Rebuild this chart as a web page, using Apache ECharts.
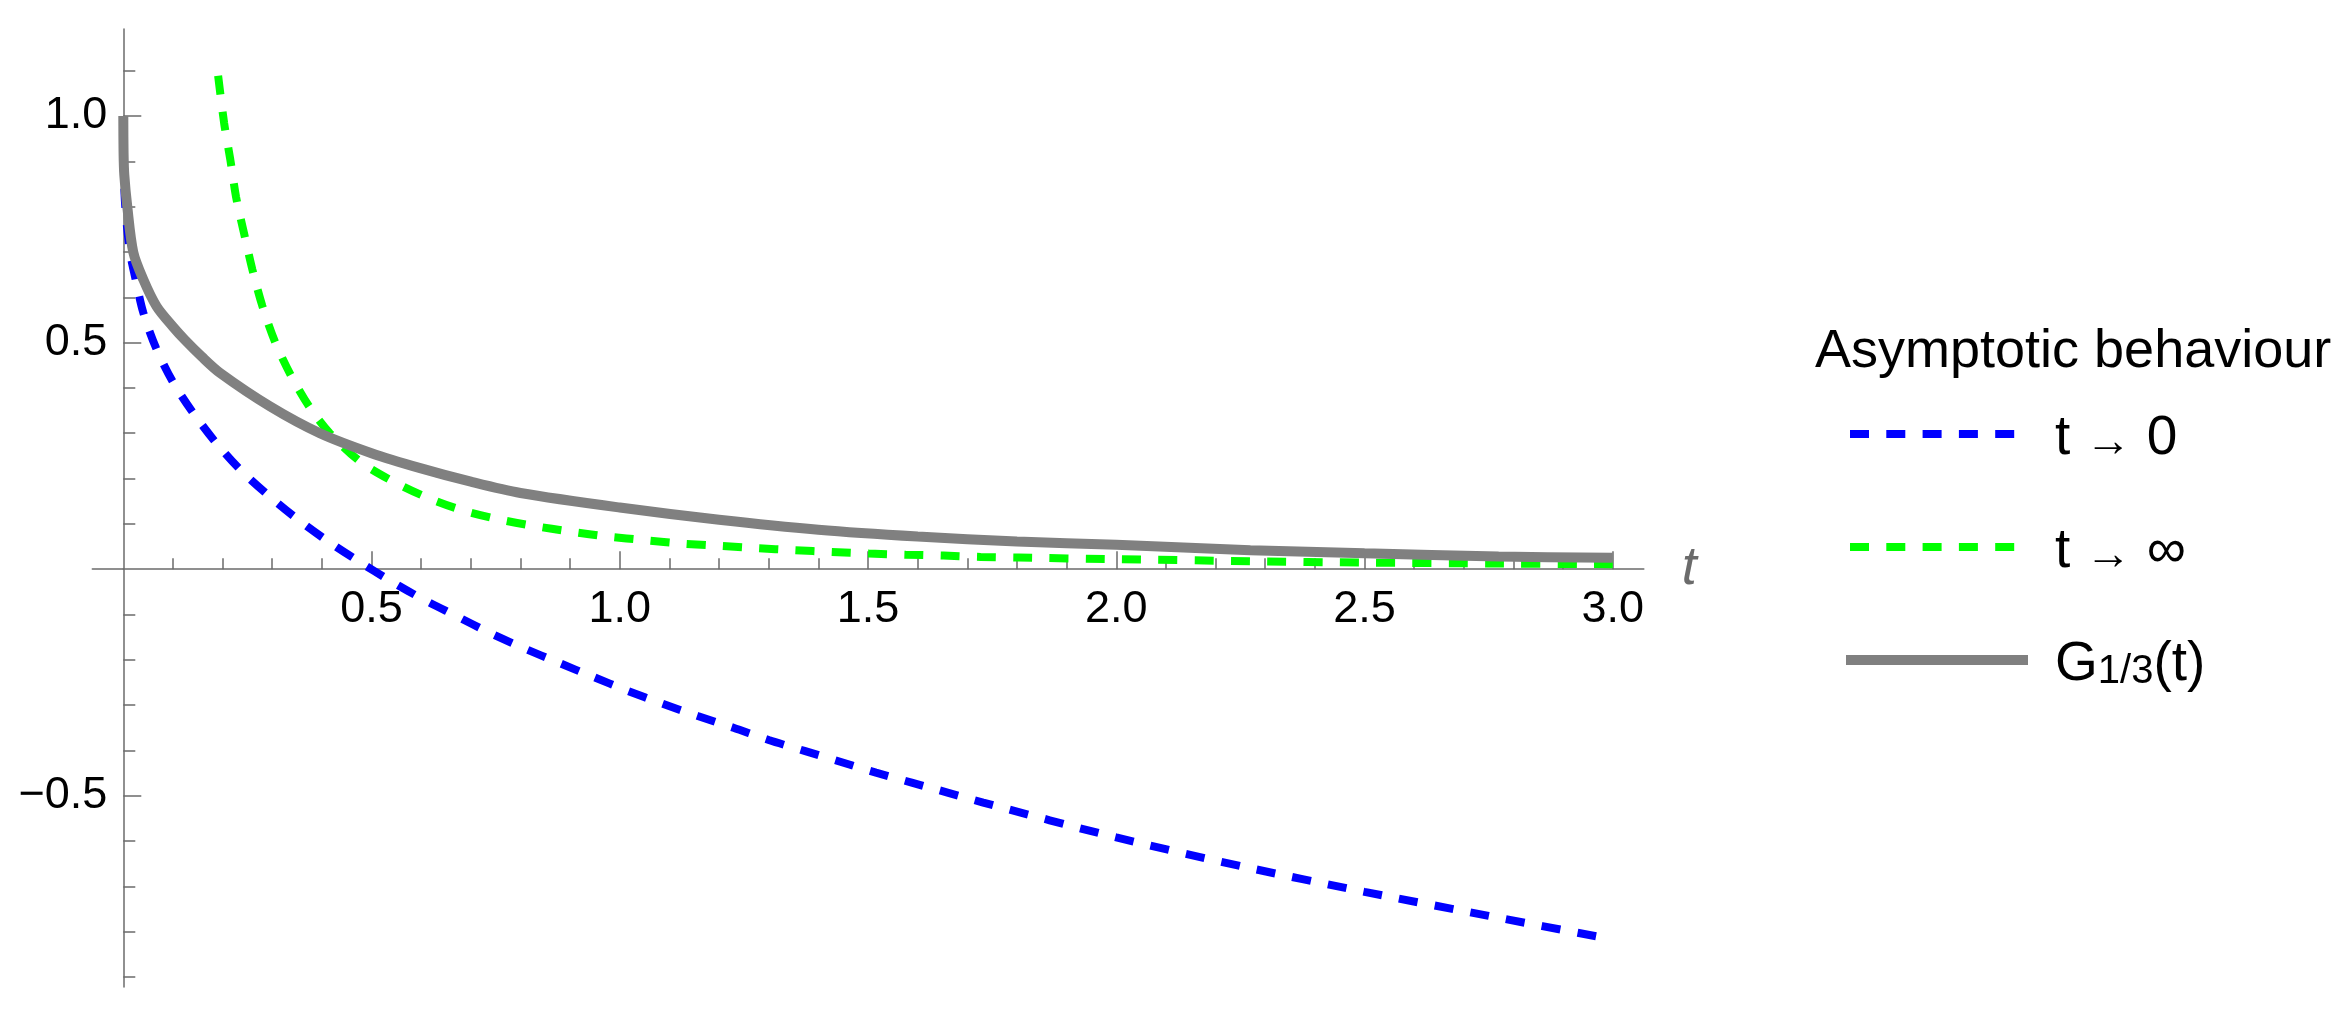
<!DOCTYPE html>
<html>
<head>
<meta charset="utf-8">
<script src="https://cdn.jsdelivr.net/npm/echarts@6/dist/echarts.min.js"></script>
<style>
html,body{margin:0;padding:0;background:#fff;}
#chart{width:2337px;height:1017px;}
</style>
</head>
<body>
<div id="chart"></div>
<script>
// ---------- data ----------
const seriesNames = ['t → 0', 't → ∞', 'G1/3(t)'];
const legendTitle = 'Asymptotic behaviour';
const xAxisName = 't';

// t -> 0 asymptote (blue dashed)
const tBlue = [0, 0.001, 0.0046, 0.0135, 0.0235, 0.0403, 0.066, 0.0995, 0.140, 0.186, 0.236, 0.291, 0.349, 0.411, 0.473, 0.537, 0.603, 0.670, 0.737, 0.806, 0.876, 0.945, 1.015, 1.086, 1.157, 1.229, 1.300, 1.372, 1.444, 1.516, 1.588, 1.660, 1.732, 2.0, 2.25, 2.5, 2.75, 3.0];
const vBlue = [1.0, 0.874, 0.79, 0.70, 0.646, 0.566, 0.488, 0.414, 0.346, 0.280, 0.219, 0.164, 0.112, 0.0625, 0.018, -0.025, -0.066, -0.103, -0.140, -0.174, -0.206, -0.237, -0.268, -0.297, -0.324, -0.350, -0.377, -0.401, -0.425, -0.449, -0.471, -0.493, -0.515, -0.592, -0.655, -0.712, -0.765, -0.817];

// t -> infinity asymptote (green dashed)
const tGreen = [0.191, 0.203, 0.2155, 0.227, 0.243, 0.260, 0.280, 0.3055, 0.337, 0.375, 0.416, 0.477, 0.541, 0.610, 0.680, 0.752, 0.825, 0.901, 0.976, 1.051, 1.126, 1.201, 1.276, 1.351, 1.427, 1.502, 1.576, 1.652, 1.727, 1.803, 2.0, 2.27, 2.5, 2.763, 3.0];
const vGreen = [1.089, 0.985, 0.904, 0.822, 0.742, 0.661, 0.581, 0.502, 0.429, 0.358, 0.300, 0.2375, 0.195, 0.159, 0.131, 0.111, 0.0957, 0.083, 0.072, 0.064, 0.0565, 0.0514, 0.0464, 0.042, 0.038, 0.0345, 0.032, 0.030, 0.027, 0.0256, 0.022, 0.0177, 0.0145, 0.0125, 0.011];

// G_{1/3}(t) (gray solid)
const tGray = [0, 0.0005, 0.002, 0.008, 0.02, 0.04, 0.067, 0.10, 0.124, 0.158, 0.195, 0.296, 0.396, 0.5, 0.598, 0.7, 0.8, 1.0, 1.2, 1.4, 1.6, 1.8, 2.0, 2.27, 2.5, 2.77, 3.0];
const vGray = [1.0, 0.92, 0.87, 0.80, 0.70, 0.64, 0.58, 0.535, 0.506, 0.469, 0.433, 0.359, 0.300, 0.256, 0.223, 0.193, 0.168, 0.136, 0.109, 0.087, 0.072, 0.061, 0.054, 0.042, 0.035, 0.028, 0.025];

// ticks
const xMajorTicks = [0.5, 1.0, 1.5, 2.0, 2.5, 3.0];
const xMinorTicks = [0.1, 0.2, 0.3, 0.4, 0.6, 0.7, 0.8, 0.9, 1.1, 1.2, 1.3, 1.4, 1.6, 1.7, 1.8, 1.9, 2.1, 2.2, 2.3, 2.4, 2.6, 2.7, 2.8, 2.9];
const yMajorTicks = [-0.5, 0.5, 1.0];
const yMinorTicks = [-0.9, -0.8, -0.7, -0.6, -0.4, -0.3, -0.2, -0.1, 0.1, 0.2, 0.3, 0.4, 0.6, 0.7, 0.8, 0.9, 1.1];

// ---------- chart ----------
const W = 2337, H = 1017;
const FONT = '"Liberation Sans", Arial, sans-serif';
const AXIS_COLOR = '#6b6b6b';
const X_MIN = 0, X_MAX = 3.0625;      // y axis sits at t = 0 (grid left edge)
const X_STUB = -0.0625;               // x axis line continues a little left of the y axis
const Y_MIN = -0.922, Y_MAX = 1.192;
const GRID = {left: 123.3, right: 693.2, top: 29, bottom: 30};
const STUB_LEFT = 92.3;
const plotH = H - GRID.top - GRID.bottom;
// x axis passes through y = 0
const zeroY = GRID.top + (Y_MAX / (Y_MAX - Y_MIN)) * plotH;
const xAxisOffset = -((H - GRID.bottom) - zeroY);

const zip = (ts, vs) => ts.map((t, i) => [t, vs[i]]);

function fmtTick(v) {
  const s = Math.abs(v).toFixed(1);
  return v < 0 ? '\u2212' + s : s;
}

const chart = echarts.init(document.getElementById('chart'), null, {renderer: 'canvas'});

const lineStyleAxis = {color: AXIS_COLOR, width: 1.5};

const legendText = {
  fontFamily: FONT, fontSize: 55, color: '#000',
  padding: [0, 0, 0, 22],
  rich: {
    g: {fontFamily: FONT, fontSize: 55, color: '#000', lineHeight: 64, verticalAlign: 'bottom'},
    a: {fontFamily: FONT, fontSize: 46, color: '#000', lineHeight: 64, verticalAlign: 'bottom'},
    s: {fontFamily: FONT, fontSize: 40, color: '#000', lineHeight: 28, verticalAlign: 'bottom'}
  }
};

const hiddenSymbol = {color: 'rgba(0,0,0,0)', borderWidth: 0, opacity: 0};

const option = {
  animation: false,
  backgroundColor: '#ffffff',
  title: {
    text: legendTitle, left: 1815, top: 325, padding: 0,
    textStyle: {fontFamily: FONT, fontSize: 54, fontWeight: 'normal', color: '#000'}
  },
  legend: {
    orient: 'vertical', left: 1841, top: 411, padding: 0,
    itemWidth: 182, itemHeight: 30, itemGap: 58,
    selectedMode: false,
    textStyle: legendText,
    formatter: function (name) {
      if (name === seriesNames[0]) return '{g|t }{a|→}{g| 0}';
      if (name === seriesNames[1]) return '{g|t }{a|→}{g| ∞}';
      return '{g|G}{s|1/3}{g|(t)}';
    },
    data: [
      {name: seriesNames[0], itemStyle: hiddenSymbol, lineStyle: {width: 8, type: [19, 17.3], dashOffset: 32.3, cap: 'butt'}},
      {name: seriesNames[1], itemStyle: hiddenSymbol, lineStyle: {width: 8, type: [19, 17.3], dashOffset: 32.3, cap: 'butt'}},
      {name: seriesNames[2], itemStyle: hiddenSymbol, lineStyle: {width: 10, type: 'solid', cap: 'butt'}}
    ]
  },
  grid: [
    {left: GRID.left, right: GRID.right, top: GRID.top, bottom: GRID.bottom, containLabel: false, outerBoundsMode: 'none'},
    {left: STUB_LEFT, right: W - GRID.left, top: GRID.top, bottom: GRID.bottom, containLabel: false, outerBoundsMode: 'none'}
  ],
  xAxis: [
    {
      gridIndex: 0, type: 'value', min: X_MIN, max: X_MAX, position: 'bottom', offset: xAxisOffset,
      splitLine: {show: false},
      axisLine: {show: true, onZero: false, lineStyle: lineStyleAxis},
      name: xAxisName, nameLocation: 'end', nameGap: 38,
      nameTextStyle: {fontFamily: FONT, fontStyle: 'italic', fontSize: 54, color: AXIS_COLOR},
      axisTick: {show: true, inside: true, length: 18, customValues: xMajorTicks, lineStyle: lineStyleAxis},
      axisLabel: {show: true, customValues: xMajorTicks, formatter: fmtTick, margin: 18,
        fontFamily: FONT, fontSize: 45, color: '#000'}
    },
    {
      gridIndex: 0, type: 'value', min: X_MIN, max: X_MAX, position: 'bottom', offset: xAxisOffset,
      splitLine: {show: false},
      axisLine: {show: false, onZero: false},
      axisTick: {show: true, inside: true, length: 11, customValues: xMinorTicks, lineStyle: lineStyleAxis},
      axisLabel: {show: false}
    },
    {
      gridIndex: 1, type: 'value', min: X_STUB, max: 0, position: 'bottom', offset: xAxisOffset,
      splitLine: {show: false},
      axisLine: {show: true, onZero: false, lineStyle: lineStyleAxis},
      axisTick: {show: false}, axisLabel: {show: false}
    }
  ],
  yAxis: [
    {
      gridIndex: 0, type: 'value', min: Y_MIN, max: Y_MAX, position: 'left',
      splitLine: {show: false},
      axisLine: {show: true, onZero: false, lineStyle: lineStyleAxis},
      axisTick: {show: true, inside: true, length: 18, customValues: yMajorTicks, lineStyle: lineStyleAxis},
      axisLabel: {show: true, customValues: yMajorTicks, formatter: fmtTick, margin: 16, align: 'right',
        fontFamily: FONT, fontSize: 45, color: '#000'}
    },
    {
      gridIndex: 0, type: 'value', min: Y_MIN, max: Y_MAX, position: 'left',
      splitLine: {show: false},
      axisLine: {show: false, onZero: false},
      axisTick: {show: true, inside: true, length: 12, customValues: yMinorTicks, lineStyle: lineStyleAxis},
      axisLabel: {show: false}
    },
    {
      gridIndex: 1, type: 'value', min: Y_MIN, max: Y_MAX, show: false
    }
  ],
  series: [
    {
      name: seriesNames[0], type: 'line', xAxisIndex: 0, yAxisIndex: 0,
      data: zip(tBlue, vBlue), showSymbol: false, symbol: 'none',
      smooth: 0.3, clip: true,
      lineStyle: {color: '#0000ff', width: 8, type: [19, 17.3], cap: 'butt'},
      itemStyle: {color: '#0000ff'}, z: 2
    },
    {
      name: seriesNames[1], type: 'line', xAxisIndex: 0, yAxisIndex: 0,
      data: zip(tGreen, vGreen), showSymbol: false, symbol: 'none',
      smooth: 0.3, clip: true,
      lineStyle: {color: '#00ff00', width: 8, type: [19, 17.3], cap: 'butt'},
      itemStyle: {color: '#00ff00'}, z: 3
    },
    {
      name: seriesNames[2], type: 'line', xAxisIndex: 0, yAxisIndex: 0,
      data: zip(tGray, vGray), showSymbol: false, symbol: 'none',
      smooth: 0.3, clip: false,
      lineStyle: {color: '#808080', width: 10, type: 'solid', cap: 'butt'},
      itemStyle: {color: '#808080'}, z: 4
    }
  ]
};
chart.setOption(option);
</script>
</body>
</html>
